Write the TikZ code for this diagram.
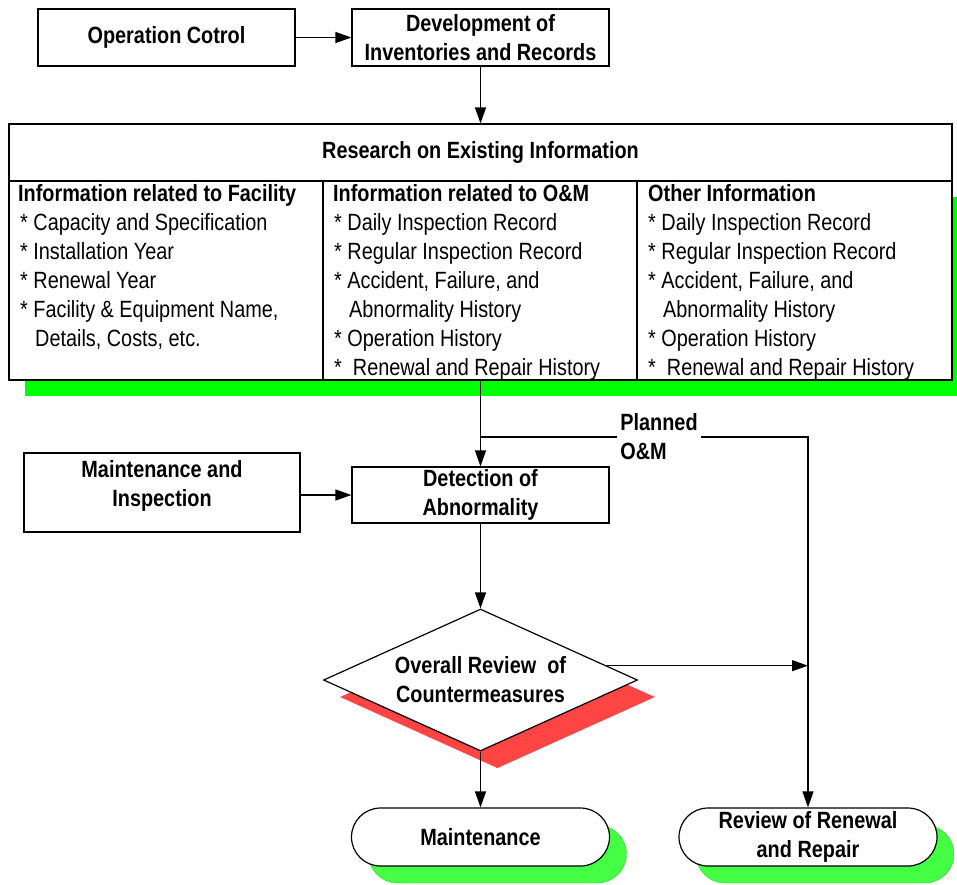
\documentclass[tikz,border=0pt]{standalone}
\usepackage{fontspec}
\setmainfont{Liberation Sans}[FakeStretch=0.845]
\usetikzlibrary{arrows.meta,shapes.geometric,shapes.misc,shadows,calc}

\definecolor{tablegreen}{RGB}{0,255,0}
\definecolor{pillgreen}{RGB}{68,255,68}
\definecolor{shadowred}{RGB}{255,68,68}

\tikzset{
  txt/.style={font=\fontsize{23.5}{29}\selectfont},
  txtb/.style={font=\fontsize{23.5}{29}\selectfont\bfseries},
  box/.style={draw, line width=1.2pt, fill=white, align=center, inner sep=0pt, txtb},
  pill/.style={box, rounded rectangle, minimum width=258pt, minimum height=58pt,
    drop shadow={shadow xshift=17pt, shadow yshift=-17pt, fill=pillgreen, draw=pillgreen!80!black, line width=0.4pt, opacity=1}},
  arr/.style={line width=1.2pt, -{Triangle[length=16pt,width=11pt]}},
  cell/.style={anchor=base west, inner sep=0pt, txt},
  cellhead/.style={anchor=base west, inner sep=0pt, txtb},
}

\begin{document}
\begin{tikzpicture}[x=1pt,y=-1pt]
\useasboundingbox (0,0) rectangle (957,884);

% top row
\node[box, minimum width=257pt, minimum height=57pt] (opctl) at (166.5,37.5) {Operation Cotrol};
\node[box, minimum width=257pt, minimum height=57pt] (devinv) at (480.5,37.5) {Development of\\Inventories and Records};
\draw[arr] (opctl) -- (devinv);

% research table
\node[box, minimum width=943pt, minimum height=57pt] (rhead) at (480.5,152.5) {Research on Existing Information};
\node[draw, line width=1.2pt, fill=white, inner sep=0pt, minimum width=943pt, minimum height=199pt,
  drop shadow={shadow xshift=16pt, shadow yshift=-16pt, fill=tablegreen, opacity=1}] (rbody) at (480.5,280.5) {};
\draw[arr] (devinv) -- (rhead);
\coordinate (d1) at (323,181);
\coordinate (d2) at (637,181);
\draw[line width=1.2pt] (d1) -- (d1 |- rbody.south);
\draw[line width=1.2pt] (d2) -- (d2 |- rbody.south);

% column 1
\node[cellhead] (c1h) at (18,201) {Information related to Facility};
\node[cell] (c1a) at (20,230) {* Capacity and Specification};
\node[cell] (c1b) at (20,259) {* Installation Year};
\node[cell] (c1c) at (20,288) {* Renewal Year};
\node[cell] (c1d) at (20,317) {* Facility \& Equipment Name,};
\node[cell] (c1e) at (35,346) {Details, Costs, etc.};

% column 2
\node[cellhead] (c2h) at (333,201) {Information related to O\&M};
\node[cell] (c2a) at (334,230) {* Daily Inspection Record};
\node[cell] (c2b) at (334,259) {* Regular Inspection Record};
\node[cell] (c2c) at (334,288) {* Accident, Failure, and};
\node[cell] (c2d) at (349,317) {Abnormality History};
\node[cell] (c2e) at (334,346) {* Operation History};
\node[cell] (c2f) at (334,375) {*\ \ Renewal and Repair History};

% column 3
\node[cellhead] (c3h) at (648,201) {Other Information};
\node[cell] (c3a) at (648,230) {* Daily Inspection Record};
\node[cell] (c3b) at (648,259) {* Regular Inspection Record};
\node[cell] (c3c) at (648,288) {* Accident, Failure, and};
\node[cell] (c3d) at (663,317) {Abnormality History};
\node[cell] (c3e) at (648,346) {* Operation History};
\node[cell] (c3f) at (648,375) {*\ \ Renewal and Repair History};

% detection and inspection
\node[box, minimum width=257pt, minimum height=56pt] (detect) at (480.5,495) {Detection of\\Abnormality};
\node[box, line width=2.2pt, minimum width=276pt, minimum height=79pt] (mi) at (162,492.5) {Maintenance and\\Inspection\\[-10pt]\mbox{}};
\draw[arr] (rbody) -- (detect);
\draw[arr] (mi.east |- detect.west) -- (detect.west);

% decision
\node[box, diamond, aspect=2.21, minimum width=314pt, minimum height=142pt,
  drop shadow={shadow xshift=17pt, shadow yshift=-17pt, fill=shadowred, draw=shadowred, line width=0.4pt, opacity=1}]
  (overall) at (480.5,680) {Overall Review\ \ of\\Countermeasures};
\draw[arr] (detect) -- (overall);

% outcomes
\node[pill] (maint) at (480.5,837) {Maintenance};
\node[pill] (review) at (808,837) {Review of Renewal\\and Repair};
\draw[arr] (overall) -- (maint);

% planned O&M branch
\coordinate (jn) at (480.5,437);
\coordinate (bend) at (808,437);
\draw[arr] (jn) -- (bend) -- (review.north);
\node[txtb, fill=white, align=left, inner xsep=3pt, inner ysep=0pt] (planned) at (659,437) {Planned\\O\&M};

\coordinate (ostart) at ($(overall.north)!0.8!(overall.east)$);
\draw[arr] (ostart) -- (ostart -| bend);
\end{tikzpicture}
\end{document}
